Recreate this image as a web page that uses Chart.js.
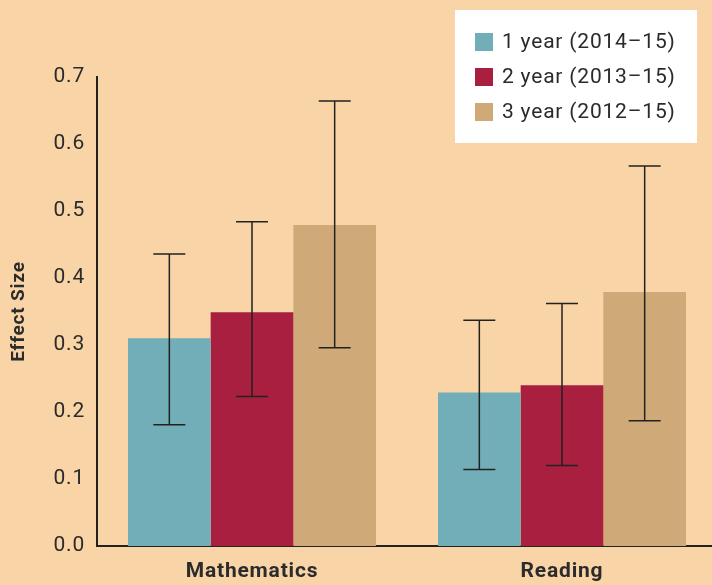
<!DOCTYPE html>
<html>
<head>
<meta charset="utf-8">
<script src="https://cdn.jsdelivr.net/npm/chart.js@4"></script>
<style>
  html, body { margin: 0; padding: 0; background: #f9d4a7; overflow: hidden; }
  #wrap { width: 717px; height: 585px; position: relative; }
</style>
</head>
<body>
<div id="wrap"><canvas id="myChart"></canvas></div>
<script>
const categories = ['Mathematics', 'Reading']
const seriesNames = ['1 year (2014\u201315)', '2 year (2013\u201315)', '3 year (2012\u201315)']
const oneYear = [0.31, 0.229]
const twoYear = [0.349, 0.24]
const threeYear = [0.479, 0.379]
const oneYearLow = [0.181, 0.114]
const oneYearHigh = [0.436, 0.337]
const twoYearLow = [0.223, 0.12]
const twoYearHigh = [0.484, 0.362]
const threeYearLow = [0.296, 0.187]
const threeYearHigh = [0.664, 0.567]
const yTicks = [0, 0.1, 0.2, 0.3, 0.4, 0.5, 0.6, 0.7]

const colors = ['#72aeb7', '#a91f40', '#cfa978']
const textColor = '#2b2b2b'

// a bit of letter spacing, the original font is wide-set
const spacing = {
  id: 'spacing',
  beforeDraw(chart) { chart.ctx.letterSpacing = '0.8px' }
}

// error bars drawn over the bars
const errorBars = {
  id: 'errorBars',
  afterDatasetsDraw(chart) {
    const ctx = chart.ctx
    const y = chart.scales.y
    chart.data.datasets.forEach((ds, i) => {
      const meta = chart.getDatasetMeta(i)
      meta.data.forEach((bar, j) => {
        const top = y.getPixelForValue(ds.high[j])
        const bot = y.getPixelForValue(ds.low[j])
        ctx.save()
        ctx.strokeStyle = '#222'
        ctx.lineWidth = 1.5
        ctx.beginPath()
        ctx.moveTo(bar.x, top)
        ctx.lineTo(bar.x, bot)
        ctx.moveTo(bar.x - 16, top)
        ctx.lineTo(bar.x + 16, top)
        ctx.moveTo(bar.x - 16, bot)
        ctx.lineTo(bar.x + 16, bot)
        ctx.stroke()
        ctx.restore()
      })
    })
  }
}

// white legend box, top right
const boxLegend = {
  id: 'boxLegend',
  afterDraw(chart) {
    const ctx = chart.ctx
    ctx.save()
    ctx.fillStyle = '#ffffff'
    ctx.fillRect(455, 10, 242, 133)
    chart.data.datasets.forEach((ds, i) => {
      const cy = 42 + i * 35
      ctx.fillStyle = ds.backgroundColor
      ctx.fillRect(475, cy - 9, 18, 18)
      ctx.fillStyle = textColor
      ctx.font = '21px "Roboto"'
      ctx.letterSpacing = '0.8px'
      ctx.textBaseline = 'middle'
      ctx.fillText(ds.label, 502, cy + 1)
    })
    ctx.restore()
  }
}

const ctx = document.getElementById('myChart')

new Chart(ctx, {
  type: 'bar',
  data: {
    labels: categories,
    datasets: [
      { label: seriesNames[0], data: oneYear, low: oneYearLow, high: oneYearHigh, backgroundColor: colors[0] },
      { label: seriesNames[1], data: twoYear, low: twoYearLow, high: twoYearHigh, backgroundColor: colors[1] },
      { label: seriesNames[2], data: threeYear, low: threeYearLow, high: threeYearHigh, backgroundColor: colors[2] }
    ]
  },
  options: {
    responsive: true,
    maintainAspectRatio: false,
    animation: false,
    layout: { padding: { top: 77, right: 0, bottom: 0, left: 0 } },
    datasets: { bar: { barPercentage: 1, categoryPercentage: 0.8 } },
    plugins: {
      legend: { display: false },
      tooltip: { enabled: false }
    },
    scales: {
      x: {
        grid: { display: false, drawTicks: false },
        border: { display: true, color: '#222', width: 2 },
        ticks: { color: textColor, padding: 13, font: { family: 'Roboto', size: 21, weight: 'bold' } },
        afterFit(scale) { scale.height = 39 }
      },
      y: {
        min: 0,
        max: 0.7,
        afterBuildTicks(scale) { scale.ticks = yTicks.map(v => ({ value: v })) },
        grid: { display: false, drawTicks: false },
        border: { display: true, color: '#222', width: 2 },
        ticks: {
          color: textColor,
          padding: 12,
          font: { family: 'Roboto', size: 21 },
          callback: v => v.toFixed(1)
        },
        title: {
          display: true,
          text: 'Effect Size',
          color: textColor,
          padding: { top: 8, bottom: 4 },
          font: { family: 'Roboto', size: 19, weight: 'bold' }
        },
        afterFit(scale) { scale.width = 97 }
      }
    }
  },
  plugins: [spacing, errorBars, boxLegend]
})
</script>
</body>
</html>
